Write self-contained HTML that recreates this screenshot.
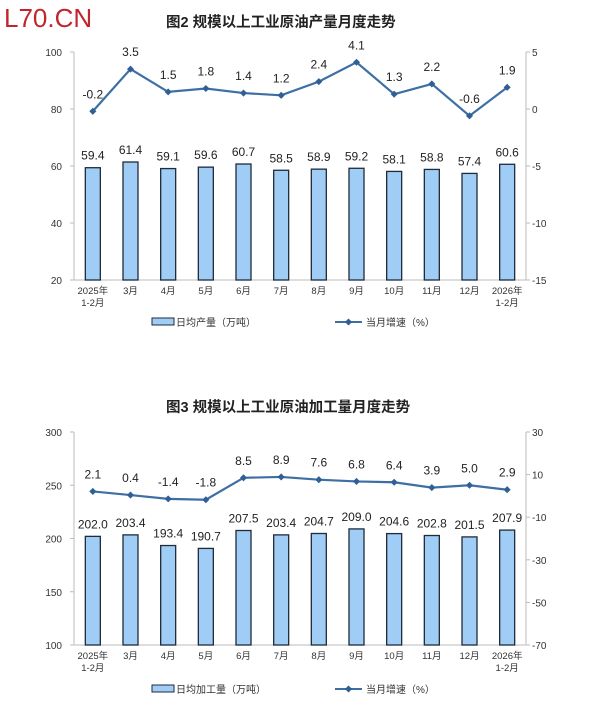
<!DOCTYPE html>
<html><head><meta charset="utf-8"><style>
body{margin:0;background:#fff;width:600px;height:710px;overflow:hidden}
svg{display:block}
text{font-family:"Liberation Sans","Noto Sans CJK SC",sans-serif}
</style></head><body>
<svg id="s" width="600" height="710" xmlns="http://www.w3.org/2000/svg"></svg>
<script>
const s=document.getElementById('s');let h='';
h+='<text x="4" y="27" font-size="26" fill="#c0262d">L70.CN</text>';
const cats=['3月','4月','5月','6月','7月','8月','9月','10月','11月','12月'];
function chart(o){
 const L=74,R=526,W=(R-L)/12;
 h+=`<text x="${o.tx}" y="${o.ty}" font-size="14.5" font-weight="bold" fill="#222">${o.title}</text>`;
 h+=`<line x1="${L}" y1="${o.top}" x2="${L}" y2="${o.bot}" stroke="#bbb"/>`;
 h+=`<line x1="${R}" y1="${o.top}" x2="${R}" y2="${o.bot}" stroke="#bbb"/>`;
 h+=`<line x1="${L}" y1="${o.bot}" x2="${R}" y2="${o.bot}" stroke="#bbb"/>`;
 o.lt.forEach((v,i)=>{const y=o.top+(o.bot-o.top)*i/(o.lt.length-1);h+=`<text x="${L-12}" y="${y+4}" font-size="10" text-anchor="end" fill="#333" font-family="Liberation Serif">${v}</text><line x1="${L-4}" x2="${L}" y1="${y}" y2="${y}" stroke="#bbb"/>`;});
 o.rt.forEach((v,i)=>{const y=o.top+(o.bot-o.top)*i/(o.rt.length-1);h+=`<text x="${R+6}" y="${y+4}" font-size="10" fill="#333" font-family="Liberation Serif">${v}</text><line x1="${R}" x2="${R+4}" y1="${y}" y2="${y}" stroke="#bbb"/>`;});
 const ly=v=>o.bot-(v-o.lmin)/(o.lmax-o.lmin)*(o.bot-o.top);
 const ry=v=>o.bot-(v-o.rmin)/(o.rmax-o.rmin)*(o.bot-o.top);
 let pts=[];
 o.bars.forEach((v,i)=>{const cx=L+W*(i+.5),y=ly(v);
  h+=`<rect x="${cx-7.5}" y="${y}" width="15" height="${o.bot-y}" fill="#9fcdf5" stroke="#1f2a3a" stroke-width="1.3"/>`;
  h+=`<text x="${cx}" y="${y-8}" font-size="12" text-anchor="middle" fill="#222">${v.toFixed(1)}</text>`;
  const py=ry(o.line[i]);pts.push(cx+','+py);
  h+=`<text x="${cx}" y="${py-13}" font-size="12" text-anchor="middle" fill="#222">${o.line[i].toFixed(1)}</text>`;
  let lbl=i==0?['2025年','1-2月']:i==11?['2026年','1-2月']:[cats[i-1]];
  lbl.forEach((t,k)=>h+=`<text x="${cx}" y="${o.bot+14+k*12}" font-size="9.5" text-anchor="middle" fill="#333">${t}</text>`);
 });
 h+=`<polyline points="${pts.join(' ')}" fill="none" stroke="#3d6fa5" stroke-width="2.2"/>`;
 pts.forEach(p=>{const [x,y]=p.split(',');h+=`<rect x="${x-2.5}" y="${y-2.5}" width="5" height="5" fill="#2f5f95" transform="rotate(45 ${x} ${y})"/>`;});
 h+=`<rect x="152" y="${o.leg-4}" width="22" height="7" fill="#9fcdf5" stroke="#1f2a3a"/><text x="176" y="${o.leg+4}" font-size="10" fill="#333">${o.legt}</text>`;
 h+=`<line x1="335" x2="362" y1="${o.leg}" y2="${o.leg}" stroke="#3d6fa5" stroke-width="2"/><rect x="346" y="${o.leg-2.5}" width="5" height="5" fill="#2f5f95" transform="rotate(45 348.5 ${o.leg})"/><text x="366" y="${o.leg+4}" font-size="10" fill="#333">当月增速（%）</text>`;
}
chart({title:'图2  规模以上工业原油产量月度走势',tx:166,ty:27,top:52,bot:280,lt:[100,80,60,40,20],rt:[5,0,-5,-10,-15],lmin:20,lmax:100,rmin:-15,rmax:5,
 bars:[59.4,61.4,59.1,59.6,60.7,58.5,58.9,59.2,58.1,58.8,57.4,60.6],
 line:[-0.2,3.5,1.5,1.8,1.4,1.2,2.4,4.1,1.3,2.2,-0.6,1.9],leg:322,legt:'日均产量（万吨）'});
chart({title:'图3  规模以上工业原油加工量月度走势',tx:166,ty:412,top:432,bot:645,lt:[300,250,200,150,100],rt:[30,10,-10,-30,-50,-70],lmin:100,lmax:300,rmin:-70,rmax:30,
 bars:[202.0,203.4,193.4,190.7,207.5,203.4,204.7,209.0,204.6,202.8,201.5,207.9],
 line:[2.1,0.4,-1.4,-1.8,8.5,8.9,7.6,6.8,6.4,3.9,5.0,2.9],leg:689,legt:'日均加工量（万吨）'});
s.innerHTML=h;
</script>
</body></html>
